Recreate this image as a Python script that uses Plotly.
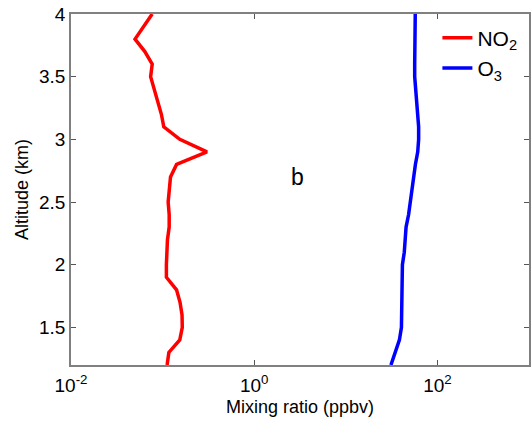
import plotly.graph_objects as go

# Altitude levels (km) of the profile
altitude = [1.2, 1.3, 1.4, 1.5, 1.6, 1.7, 1.8, 1.9, 2.0, 2.1,
            2.2, 2.3, 2.4, 2.5, 2.6, 2.7, 2.8, 2.9, 3.0, 3.1,
            3.2, 3.3, 3.4, 3.5, 3.6, 3.7, 3.8, 3.9, 4.0]

# NO2 mixing ratio (ppbv)
no2 = [0.112, 0.117, 0.154, 0.164, 0.163, 0.155, 0.142, 0.110, 0.110, 0.111,
       0.113, 0.118, 0.118, 0.115, 0.118, 0.122, 0.142, 0.305, 0.154, 0.103,
       0.097, 0.089, 0.080, 0.074, 0.077, 0.064, 0.050, 0.062, 0.077]

# O3 mixing ratio (ppbv)
o3 = [31.1, 35.0, 38.5, 40.5, 40.8, 41.0, 41.0, 41.0, 41.5, 43.5,
      44.8, 45.5, 48.5, 50.5, 52.5, 55.0, 57.5, 61.0, 62.4, 62.4,
      61.0, 58.5, 57.5, 56.5, 56.5, 56.8, 57.0, 57.2, 57.3]

x_tickvals = [0.01, 1, 100]
x_ticktext = ["10<sup>-2</sup>", "10<sup>0</sup>", "10<sup>2</sup>"]
y_tickvals = [1.5, 2, 2.5, 3, 3.5, 4]
y_ticktext = ["1.5", "2", "2.5", "3", "3.5", "4"]

font_family = "Liberation Sans, Arial, sans-serif"

fig = go.Figure()
fig.add_trace(go.Scatter(x=no2, y=altitude, mode="lines", name="NO<sub>2</sub>",
                         line=dict(color="#ff0000", width=3.5)))
fig.add_trace(go.Scatter(x=o3, y=altitude, mode="lines", name="O<sub>3</sub>",
                         line=dict(color="#0000ff", width=3.5)))

fig.add_annotation(x=0.47, y=2.70, xref="x", yref="y", text="b", showarrow=False,
                   font=dict(size=23, color="black", family=font_family))

axis_common = dict(showgrid=False, zeroline=False, showline=True, mirror="ticks",
                   linecolor="#808080", linewidth=1.5, ticks="inside", ticklen=5,
                   tickcolor="#555555", tickfont=dict(size=19, color="black", family=font_family))

fig.update_xaxes(type="log", range=[-2, 3], tickvals=x_tickvals, ticktext=x_ticktext,
                 ticklabelstandoff=2,
                 title=dict(text="Mixing ratio (ppbv)", standoff=6,
                            font=dict(size=18, color="black", family=font_family)),
                 **axis_common)
fig.update_yaxes(range=[1.2, 4], tickvals=y_tickvals, ticktext=y_ticktext,
                 title=dict(text="Altitude (km)", standoff=6,
                            font=dict(size=18, color="black", family=font_family)),
                 **axis_common)

fig.update_layout(
    width=532, height=425,
    margin=dict(l=71, r=1, t=14, b=60),
    paper_bgcolor="white", plot_bgcolor="white",
    showlegend=True,
    legend=dict(x=0.80, y=0.99, xanchor="left", yanchor="top",
                bgcolor="rgba(255,255,255,0)", borderwidth=0,
                font=dict(size=21, color="black", family=font_family),
                itemwidth=30, tracegroupgap=4),
)

fig.write_html("out.html")
